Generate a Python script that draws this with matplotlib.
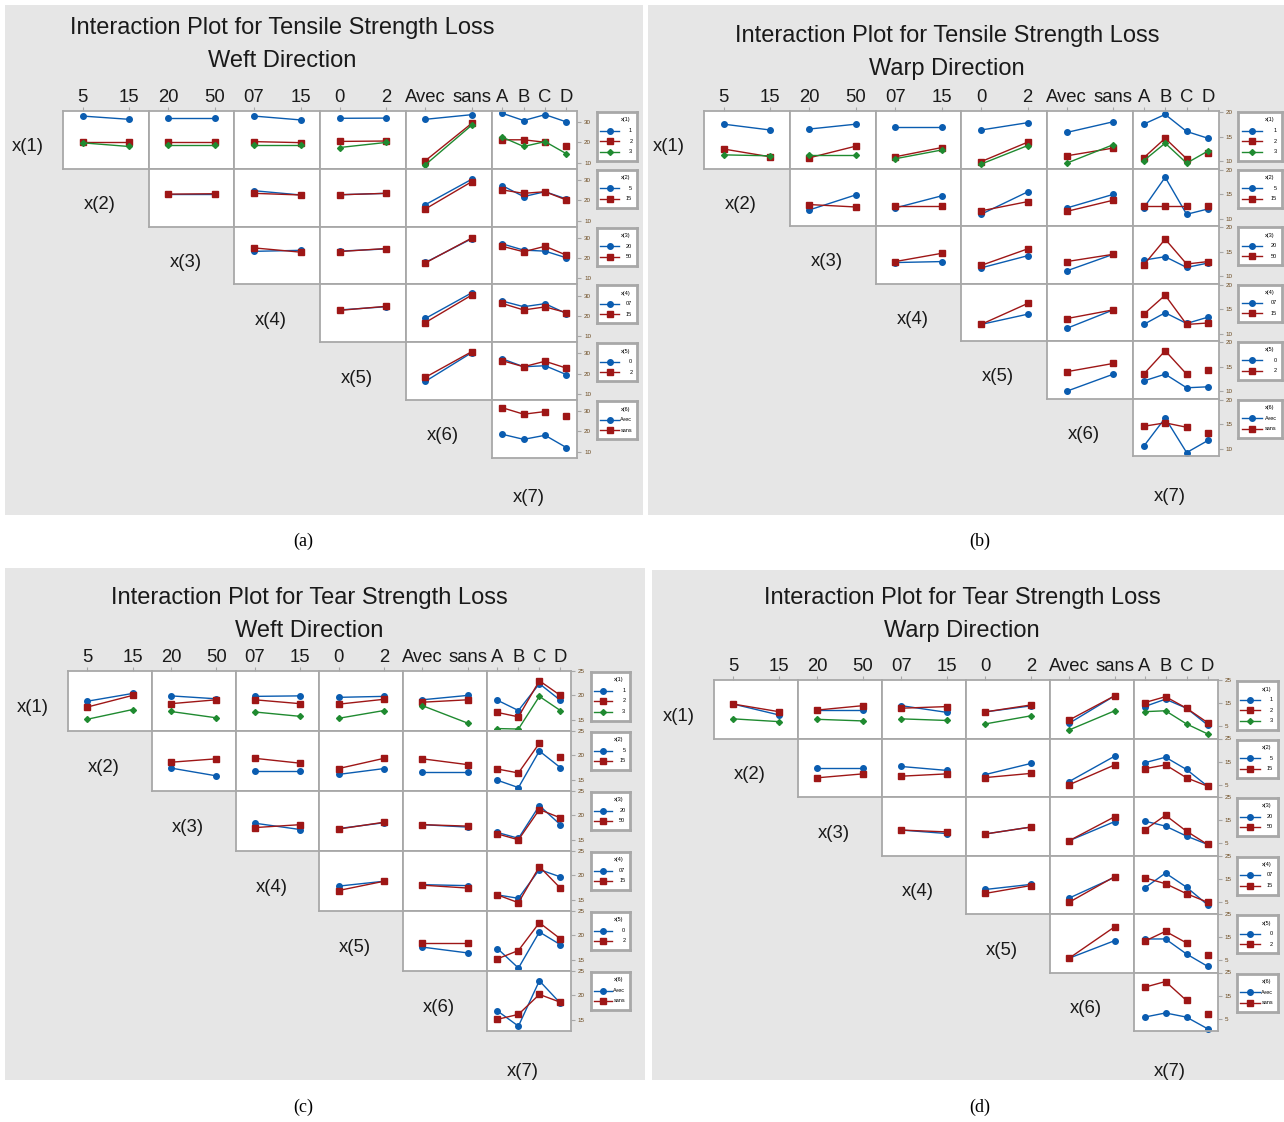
import numpy as np
import matplotlib.pyplot as plt
from matplotlib.patches import Rectangle
from matplotlib.lines import Line2D

plt.rcParams.update({'font.family': 'Liberation Sans'})

#==============================================================================
# DATA
#==============================================================================
x1_levels = ['1', '2', '3']
x2_levels = ['5', '15']
x3_levels = ['20', '50']
x4_levels = ['07', '15']
x5_levels = ['0', '2']
x6_levels = ['Avec', 'sans']
x7_levels = ['A', 'B', 'C', 'D']

# one entry per column factor x(j), j > i ; inside: one series per level of x(i)
# (a) Tensile strength loss, weft
ta_x1 = [[[33.0, 31.4], [20.3, 20.3], [19.8, 18.0]],
         [[31.9, 31.9], [20.1, 20.1], [18.8, 18.8]],
         [[33.0, 31.1], [20.4, 19.9], [18.8, 18.8]],
         [[31.9, 32.0], [20.5, 20.7], [17.5, 20.0]],
         [[31.4, 33.7], [11.0, 29.5], [9.0, 28.6]],
         [[34.4, 30.8, 33.7, 30.1], [21.3, 21.3, 20.1, 18.0], [22.6, 18.0, 20.4, 14.4]]]
ta_x2 = [[[23.3, 23.3], [23.0, 23.2]],
         [[24.7, 22.6], [23.4, 22.6]],
         [[22.7, 23.4], [22.7, 23.4]],
         [[17.8, 30.4], [15.7, 29.2]],
         [[27.2, 21.8, 24.2, 20.6], [25.1, 23.4, 24.2, 20.1]]]
ta_x3 = [[[23.3, 23.8], [25.0, 22.9]],
         [[23.4, 24.5], [23.2, 24.7]],
         [[17.8, 29.6], [17.6, 29.9]],
         [[27.0, 23.9, 23.4, 20.1], [25.8, 23.1, 25.8, 21.4]]]
ta_x4 = [[[22.9, 24.5], [22.7, 24.7]],
         [[18.7, 31.4], [16.7, 30.3]],
         [[27.3, 24.5, 26.0, 21.1], [26.1, 22.9, 24.4, 21.6]]]
ta_x5 = [[[16.2, 30.4], [18.2, 30.9]],
         [[27.3, 23.4, 23.9, 19.5], [26.4, 23.4, 26.1, 22.7]]]
ta_x6 = [[[18.6, 16.1, 18.1, 12.0], [31.7, 28.5, 29.8, 27.6]]]

# (b) Tensile strength loss, warp
tb_x1 = [[[17.6, 16.4], [12.5, 10.9], [11.3, 11.1]],
         [[16.6, 17.6], [10.7, 13.1], [11.2, 11.2]],
         [[17.0, 17.0], [10.9, 12.8], [10.5, 12.3]],
         [[16.4, 17.9], [9.9, 13.9], [9.4, 13.2]],
         [[15.9, 18.1], [11.1, 12.7], [9.6, 13.4]],
         [[17.6, 19.6, 16.1, 14.7], [10.7, 14.7, 10.5, 11.6], [10.1, 13.7, 9.6, 12.1]]]
tb_x2 = [[[11.8, 14.9], [12.9, 12.4]],
         [[12.2, 14.7], [12.7, 12.7]],
         [[10.9, 15.5], [11.6, 13.5]],
         [[12.2, 15.0], [11.5, 13.8]],
         [[12.2, 18.5, 10.9, 12.0], [12.7, 12.7, 12.7, 12.7]]]
tb_x3 = [[[12.8, 13.0], [13.0, 14.7]],
         [[11.7, 14.2], [12.2, 15.6]],
         [[11.1, 14.5], [13.0, 14.5]],
         [[13.3, 14.0, 11.8, 12.7], [12.3, 17.6, 12.5, 13.0]]]
tb_x4 = [[[11.9, 14.0], [11.9, 16.2]],
         [[11.1, 14.9], [13.1, 14.9]],
         [[11.9, 14.3, 12.1, 13.4], [14.0, 17.9, 11.9, 12.2]]]
tb_x5 = [[[10.0, 13.5], [14.0, 15.7]],
         [[12.1, 13.5, 10.7, 10.9], [13.5, 18.3, 13.5, 14.4]]]
tb_x6 = [[[10.5, 16.3, 9.2, 11.7], [14.6, 15.3, 14.4, 13.2]]]

# (c) Tear strength loss, weft
tc_x1 = [[[18.8, 20.4], [17.6, 20.0], [15.1, 17.1]],
         [[19.9, 19.3], [18.3, 19.1], [16.7, 15.4]],
         [[19.8, 19.9], [19.1, 18.3], [16.6, 15.7]],
         [[19.6, 19.8], [18.2, 19.2], [15.3, 16.9]],
         [[19.1, 20.0], [18.6, 19.1], [17.9, 14.3]],
         [[19.0, 16.9, 22.4, 19.0], [16.5, 15.6, 23.0, 20.0], [13.2, 13.1, 19.8, 16.9]]]
tc_x2 = [[[17.4, 15.8], [18.6, 19.3]],
         [[16.7, 16.7], [19.4, 18.4]],
         [[16.1, 17.3], [17.3, 19.4]],
         [[16.6, 16.6], [19.3, 18.1]],
         [[14.9, 13.4, 20.9, 17.5], [17.2, 16.4, 22.5, 19.6]]]
tc_x3 = [[[18.4, 17.1], [17.5, 18.1]],
         [[17.3, 18.5], [17.2, 18.6]],
         [[18.1, 17.6], [18.1, 17.8]],
         [[16.5, 15.3, 22.0, 18.1], [16.2, 15.0, 21.2, 19.5]]]
tc_x4 = [[[17.8, 18.8], [16.9, 18.8]],
         [[18.1, 17.9], [18.0, 17.4]],
         [[16.0, 15.3, 21.2, 19.7], [16.0, 14.4, 21.8, 17.4]]]
tc_x5 = [[[17.6, 16.4], [18.5, 18.5]],
         [[17.3, 13.3, 20.7, 18.1], [15.2, 16.9, 22.6, 19.3]]]
tc_x6 = [[[16.8, 13.7, 23.0, 18.4], [15.1, 16.1, 20.2, 18.6]]]

# (d) Tear strength loss, warp
td_x1 = [[[14.6, 9.9], [14.6, 11.3], [8.2, 7.0]],
         [[12.0, 12.0], [12.0, 13.9], [8.0, 7.3]],
         [[13.9, 11.0], [12.8, 13.5], [8.2, 7.5]],
         [[11.2, 13.8], [11.2, 14.2], [6.0, 9.5]],
         [[6.3, 18.2], [7.7, 18.2], [3.4, 11.7]],
         [[13.5, 16.7, 12.8, 5.6], [15.2, 17.8, 12.8, 6.6], [11.3, 11.7, 6.0, 1.7]]]
td_x2 = [[[12.3, 12.3], [8.0, 9.7]],
         [[12.9, 11.2], [8.7, 9.7]],
         [[9.4, 14.2], [8.1, 9.9]],
         [[6.4, 17.4], [5.0, 13.6]],
         [[14.5, 16.9, 11.6, 4.4], [11.9, 13.6, 8.0, 4.4]]]
td_x3 = [[[10.7, 9.2], [10.7, 9.9]],
         [[9.0, 12.0], [9.0, 12.0]],
         [[6.1, 14.4], [6.1, 16.5]],
         [[14.6, 12.4, 8.1, 4.5], [10.7, 17.1, 10.2, 4.5]]]
td_x4 = [[[10.3, 12.5], [8.6, 12.0]],
         [[6.6, 15.6], [4.8, 15.9]],
         [[10.9, 17.4, 11.3, 3.7], [15.4, 12.8, 8.5, 4.8]]]
td_x5 = [[[5.9, 13.5], [5.9, 19.5]],
         [[14.2, 14.2, 7.7, 2.4], [13.2, 17.5, 12.5, 7.3]]]
td_x6 = [[[5.7, 7.5, 5.7, 0.7], [18.6, 21.1, 12.9, 6.9]]]

# points not joined to the previous one: (row, column, series, point)
gaps_a = [(0, 5, 1, 3), (5, 5, 1, 3)]
gaps_b = [(0, 5, 1, 3), (1, 5, 1, 3), (4, 5, 1, 3), (5, 5, 1, 3)]
gaps_c = [(1, 5, 1, 3)]
gaps_d = [(4, 5, 1, 3), (5, 5, 1, 3)]

titles = ['Interaction Plot for Tensile Strength Loss\nWeft Direction',
          'Interaction Plot for Tensile Strength Loss\nWarp Direction',
          'Interaction Plot for Tear Strength Loss\nWeft Direction',
          'Interaction Plot for Tear Strength Loss\nWarp Direction']
captions = ['(a)', '(b)', '(c)', '(d)']
yticks_list = [[10, 20, 30], [10, 15, 20], [15, 20, 25], [5, 15, 25]]
ylims = [(7, 35.5), (8.5, 20.3), (12.7, 25), (-0.3, 25)]

levels = [x1_levels, x2_levels, x3_levels, x4_levels, x5_levels, x6_levels, x7_levels]
panel_data = [[ta_x1, ta_x2, ta_x3, ta_x4, ta_x5, ta_x6],
              [tb_x1, tb_x2, tb_x3, tb_x4, tb_x5, tb_x6],
              [tc_x1, tc_x2, tc_x3, tc_x4, tc_x5, tc_x6],
              [td_x1, td_x2, td_x3, td_x4, td_x5, td_x6]]
panel_gaps = [gaps_a, gaps_b, gaps_c, gaps_d]

#==============================================================================
# LAYOUT (pixels)
#==============================================================================
W, H = 1284, 1122
# background box, grid left/top, cell w/h, title centre, legend x/w
layout = [dict(bg=(5, 5, 643, 515), left=63, top=111, cw=85.7, ch=57.8, tx=282, ty=28,
               lx=597, lw=40, cap=(303, 541)),
          dict(bg=(648, 5, 1284, 515), left=704, top=111, cw=85.8, ch=57.5, tx=947, ty=36,
               lx=1238, lw=44, cap=(980, 541)),
          dict(bg=(5, 568, 645, 1080), left=68, top=671, cw=83.8, ch=60.0, tx=309, ty=598,
               lx=591, lw=39, cap=(303, 1107)),
          dict(bg=(652, 570, 1284, 1080), left=714, top=680, cw=84.0, ch=58.5, tx=962, ty=598,
               lx=1237, lw=41, cap=(980, 1107))]

colors = ['#0a5cb0', '#9e1616', '#1f8a30']
markers = ['o', 's', 'D']
msizes = [4.0, 4.6, 3.0]
gridcol = '#a8a8a8'

fig = plt.figure(figsize=(W / 100, H / 100), dpi=100)


def fbox(x0, y0, w, h):
    return [x0 / W, 1 - (y0 + h) / H, w / W, h / H]


for p in range(4):
    L = layout[p]
    x0, y0, x1, y1 = L['bg']
    fig.patches.append(Rectangle((x0 / W, 1 - y1 / H), (x1 - x0) / W, (y1 - y0) / H,
                                 transform=fig.transFigure, facecolor='#e6e6e6',
                                 edgecolor='none', zorder=-10))
    fig.text(L['tx'] / W, 1 - L['ty'] / H, titles[p].split('\n')[0], ha='center', va='center',
             fontsize=17, color='#1a1a1a')
    fig.text(L['tx'] / W, 1 - (L['ty'] + 33) / H, titles[p].split('\n')[1], ha='center',
             va='center', fontsize=17, color='#1a1a1a')
    fig.text(L['cap'][0] / W, 1 - L['cap'][1] / H, captions[p], ha='center', va='center',
             fontsize=13, family='Liberation Serif')

    left, top, cw, ch = L['left'], L['top'], L['cw'], L['ch']
    for i in range(6):
        rowdata = panel_data[p][i]
        for j in range(i, 6):
            col_lv = levels[j + 1]
            n = len(col_lv)
            ax = fig.add_axes(fbox(left + j * cw, top + i * ch, cw, ch))
            ax.set_facecolor('white')
            xs = np.arange(n)
            for k, series in enumerate(rowdata[j - i]):
                lx_, ly_ = list(xs.astype(float)), list(series)
                for (gi, gj, gk, gp) in panel_gaps[p]:
                    if (gi, gj, gk) == (i, j, k):
                        lx_.insert(gp, np.nan)
                        ly_.insert(gp, np.nan)
                ax.plot(lx_, ly_, color=colors[k], lw=1.0, clip_on=False)
                ax.plot(xs, series, ls='none', marker=markers[k], ms=msizes[k],
                        color=colors[k], mec=colors[k], clip_on=False)
            if n == 2:
                ax.set_xlim(-0.42, 1.42)
            else:
                ax.set_xlim(-0.5, 3.5)
            ax.set_ylim(*ylims[p])
            for s in ax.spines.values():
                s.set_color(gridcol)
                s.set_linewidth(1.3)
            ax.set_yticks([])
            if i == 0:
                ax.set_xticks(xs)
                ax.set_xticklabels(col_lv)
                ax.tick_params(axis='x', top=True, labeltop=True, bottom=False,
                               labelbottom=False, length=3, color=gridcol, pad=0.5,
                               labelsize=13.3, labelcolor='#1a1a1a')
            else:
                ax.set_xticks([])
            if j == 5:
                ax.yaxis.tick_right()
                ax.set_yticks(yticks_list[p])
                ax.tick_params(axis='y', right=True, labelright=True, length=3,
                               color=gridcol, labelsize=4.5, labelcolor='#6b4a20', pad=2)

        # row label on the diagonal
        if i == 0:
            lx = left - 35
        else:
            lx = left + (i - 0.5) * cw - 6
        fig.text(lx / W, 1 - (top + (i + 0.5) * ch + 7) / H, 'x(%d)' % (i + 1),
                 ha='center', va='center', fontsize=13.3, color='#1a1a1a')

        # legend box for this row
        nlev = len(levels[i])
        lh = 49 if nlev == 3 else 38
        lax = fig.add_axes(fbox(L['lx'], top + i * ch + 1, L['lw'], lh))
        lax.set_xlim(0, 1)
        lax.set_ylim(0, 1)
        lax.set_xticks([])
        lax.set_yticks([])
        for s in lax.spines.values():
            s.set_color(gridcol)
            s.set_linewidth(2.0)
        step = 10.5 / lh
        lax.text(0.72, 1 - 8 / lh, 'x(%d)' % (i + 1), ha='center', va='center', fontsize=4)
        for k in range(nlev):
            yk = 1 - 8 / lh - (k + 1) * step
            lax.add_line(Line2D([0.08, 0.32, 0.55], [yk, yk, yk], color=colors[k], lw=1.0,
                                marker=markers[k], ms=msizes[k], markevery=[1],
                                mec=colors[k]))
            lax.text(0.88, yk, levels[i][k], ha='right', va='center', fontsize=4)

    # label for x(7)
    fig.text((left + 5.5 * cw - 6) / W, 1 - (top + 6 * ch + 40) / H, 'x(7)',
             ha='center', va='center', fontsize=13.3, color='#1a1a1a')

fig.savefig('out.png', dpi=100, facecolor='white')
